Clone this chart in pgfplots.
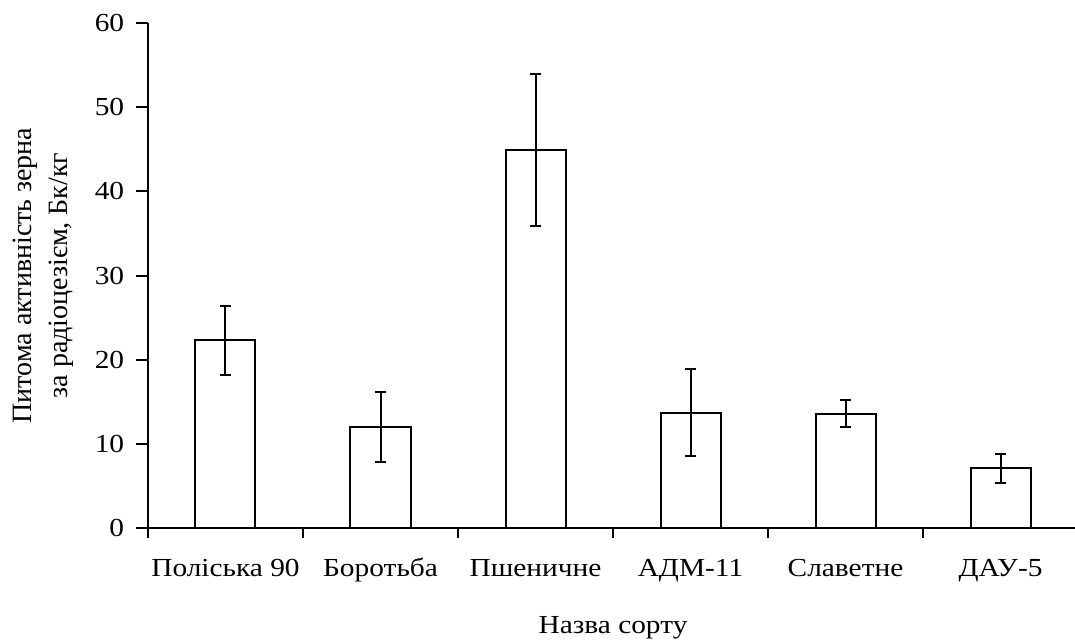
\documentclass[border=0pt]{standalone}
\usepackage{pgfplots}
\pgfplotsset{compat=1.18}
\usepackage{fontspec}
\setmainfont{Liberation Serif}[FakeStretch=1.13]
\newfontfamily\ylfont{Liberation Serif}
\begin{document}
\fontsize{26pt}{30pt}\selectfont
\begin{tikzpicture}
\useasboundingbox (-148pt,-112pt) rectangle (927pt,528pt);
\begin{axis}[
  at={(0pt,0pt)}, anchor=south west,
  scale only axis,
  width=930pt, height=505pt,
  xmin=-0.5, xmax=5.5,
  ymin=0, ymax=60,
  ytick={0,10,...,60},
  xtick={0,...,5},
  xticklabels={Поліська 90, Боротьба, Пшеничне, АДМ-11, Славетне, ДАУ-5},
  minor xtick={-0.5,0.5,...,4.5},
  major x tick style={draw=none},
  axis x line*=bottom, axis y line*=left,
  tick align=outside,
  major tick length=12pt, minor tick length=10pt,
  every tick/.style={line width=2pt, black},
  axis line style={line width=2pt, black},
  /pgf/number format/assume math mode=true,
  tick label style={font=\fontsize{26pt}{30pt}\selectfont},
  xticklabel style={anchor=base, yshift=-36pt},
  yticklabel style={anchor=east, xshift=-3pt},
  xlabel={Назва сорту},
  xlabel style={font=\fontsize{26pt}{30pt}\selectfont, at={(axis description cs:0.5,0)}, anchor=base, yshift=-105pt},
  ylabel={Питома активність зерна\\за радіоцезієм, Бк/кг},
  ylabel style={font=\ylfont\fontsize{28pt}{36pt}\selectfont, align=center, at={(axis description cs:0,0.5)}, anchor=center, yshift=105pt},
  ybar, bar width=60pt,
]
\addplot[fill=white, draw=black, line width=2pt,
  error bars/.cd, y dir=both, y explicit,
  error bar style={line width=2pt, black},
  error mark options={rotate=90, mark size=5.5pt, line width=2pt, black}]
  coordinates {
  (0,22.3) +- (0,4.1)
  (1,12.0) +- (0,4.1)
  (2,44.9) +- (0,9.0)
  (3,13.7) +- (0,5.2)
  (4,13.6) +- (0,1.6)
  (5,7.1) +- (0,1.7)
};
\end{axis}
\end{tikzpicture}
\end{document}
